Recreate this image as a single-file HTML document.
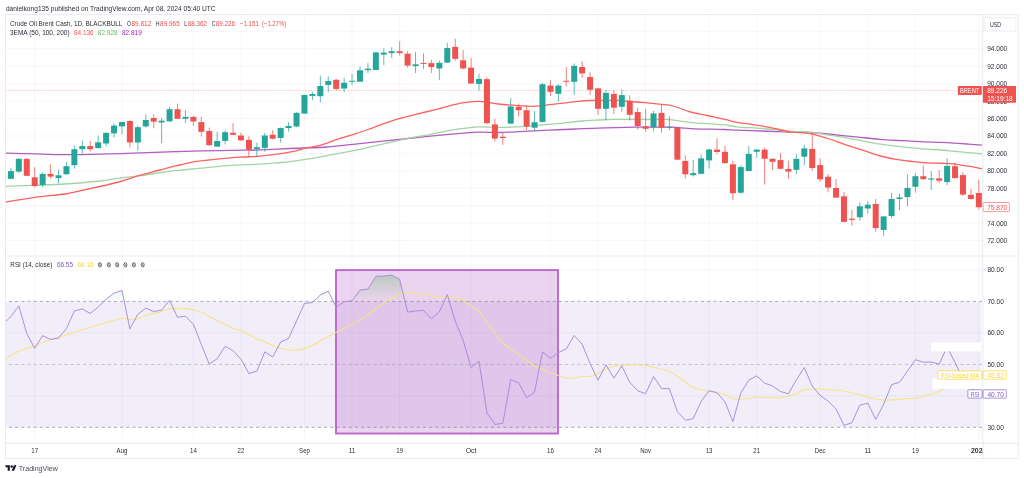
<!DOCTYPE html><html><head><meta charset="utf-8"><title>Crude Oil Brent Cash chart</title>
<style>html,body{margin:0;padding:0;background:#fff;}svg{display:block;font-family:"Liberation Sans",sans-serif;}</style></head><body>
<svg width="1024" height="478" viewBox="0 0 1024 478">
<defs>
<clipPath id="cpP"><rect x="5.6" y="14.7" width="976.5999999999999" height="241.3"/></clipPath>
<clipPath id="cpR"><rect x="5.6" y="256.0" width="976.5999999999999" height="187.2"/></clipPath>
<clipPath id="cpT"><rect x="5.6" y="443.2" width="977.1999999999999" height="15.300000000000011"/></clipPath>
<linearGradient id="ob" gradientUnits="userSpaceOnUse" x1="0" y1="210" x2="0" y2="301.4"><stop offset="0" stop-color="#4caf50" stop-opacity="1"/><stop offset="1" stop-color="#4caf50" stop-opacity="0"/></linearGradient>
<mask id="mk" maskUnits="userSpaceOnUse" x="0" y="0" width="1024" height="478"><rect width="1024" height="478" fill="#fff"/></mask>
</defs>
<g mask="url(#mk)">
<rect width="1024" height="478" fill="#fff"/>
<text x="5.9" y="10.7" font-size="7.3" fill="#2a2e39" textLength="209.7" lengthAdjust="spacingAndGlyphs">danielkong135 published on TradingView.com, Apr 08, 2024 05:40 UTC</text>
<g stroke="#2a2e39" stroke-opacity="0.06" stroke-width="0.7">
<line x1="34.7" y1="14.7" x2="34.7" y2="443.2"/>
<line x1="122.0" y1="14.7" x2="122.0" y2="443.2"/>
<line x1="193.4" y1="14.7" x2="193.4" y2="443.2"/>
<line x1="241.0" y1="14.7" x2="241.0" y2="443.2"/>
<line x1="304.5" y1="14.7" x2="304.5" y2="443.2"/>
<line x1="352.1" y1="14.7" x2="352.1" y2="443.2"/>
<line x1="399.7" y1="14.7" x2="399.7" y2="443.2"/>
<line x1="471.1" y1="14.7" x2="471.1" y2="443.2"/>
<line x1="550.4" y1="14.7" x2="550.4" y2="443.2"/>
<line x1="598.0" y1="14.7" x2="598.0" y2="443.2"/>
<line x1="645.6" y1="14.7" x2="645.6" y2="443.2"/>
<line x1="709.1" y1="14.7" x2="709.1" y2="443.2"/>
<line x1="756.7" y1="14.7" x2="756.7" y2="443.2"/>
<line x1="820.2" y1="14.7" x2="820.2" y2="443.2"/>
<line x1="867.8" y1="14.7" x2="867.8" y2="443.2"/>
<line x1="915.4" y1="14.7" x2="915.4" y2="443.2"/>
<line x1="978.8" y1="14.7" x2="978.8" y2="443.2"/>
<line x1="5.6" y1="240.6" x2="982.8" y2="240.6"/>
<line x1="5.6" y1="223.2" x2="982.8" y2="223.2"/>
<line x1="5.6" y1="205.8" x2="982.8" y2="205.8"/>
<line x1="5.6" y1="188.3" x2="982.8" y2="188.3"/>
<line x1="5.6" y1="170.9" x2="982.8" y2="170.9"/>
<line x1="5.6" y1="153.4" x2="982.8" y2="153.4"/>
<line x1="5.6" y1="136.0" x2="982.8" y2="136.0"/>
<line x1="5.6" y1="118.6" x2="982.8" y2="118.6"/>
<line x1="5.6" y1="101.1" x2="982.8" y2="101.1"/>
<line x1="5.6" y1="83.7" x2="982.8" y2="83.7"/>
<line x1="5.6" y1="66.2" x2="982.8" y2="66.2"/>
<line x1="5.6" y1="48.8" x2="982.8" y2="48.8"/>
<line x1="5.6" y1="31.4" x2="982.8" y2="31.4"/>
<line x1="5.6" y1="269.9" x2="982.8" y2="269.9"/>
<line x1="5.6" y1="332.9" x2="982.8" y2="332.9"/>
<line x1="5.6" y1="395.8" x2="982.8" y2="395.8"/>
</g>
<g clip-path="url(#cpP)">
<path d="M5.5,153.1 C10.4,153.2 25.1,153.7 35.0,153.9 C44.9,154.2 54.2,154.6 65.0,154.6 C75.8,154.6 87.4,154.4 100.0,154.1 C112.6,153.8 128.0,153.3 140.6,152.9 C153.2,152.5 165.7,151.9 175.7,151.6 C185.7,151.3 189.5,151.1 200.8,150.9 C212.1,150.7 234.5,150.3 243.7,150.2 C252.9,150.1 248.3,150.4 256.0,150.1 C263.7,149.8 279.3,148.9 290.0,148.5 C300.7,148.1 313.2,147.8 320.0,147.5 C326.8,147.2 325.1,147.2 331.0,146.6 C336.9,146.0 345.3,145.1 355.2,144.1 C365.1,143.1 378.6,141.7 390.3,140.4 C402.0,139.2 413.8,137.8 425.5,136.6 C437.2,135.4 451.8,134.1 460.6,133.4 C469.4,132.7 471.8,132.3 478.2,132.2 C484.6,132.0 493.2,132.6 499.3,132.5 C505.4,132.4 506.8,132.2 515.0,131.8 C523.2,131.4 538.7,130.7 548.7,130.2 C558.7,129.7 566.6,129.3 575.0,129.0 C583.4,128.7 588.6,128.4 598.8,128.1 C609.0,127.8 627.0,127.3 636.0,127.2 C645.0,127.1 646.8,127.2 653.0,127.2 C659.2,127.2 668.7,127.1 673.5,127.2 C678.3,127.3 678.3,127.5 681.8,127.8 C685.3,128.1 690.2,128.7 694.4,128.9 C698.6,129.1 701.9,129.0 707.0,129.1 C712.1,129.2 720.0,129.3 725.0,129.5 C730.0,129.7 730.8,129.9 737.0,130.2 C743.2,130.4 754.8,130.8 762.0,131.0 C769.2,131.2 775.2,131.5 780.0,131.7 C784.8,131.9 786.0,132.1 791.0,132.2 C796.0,132.3 803.9,132.0 810.0,132.3 C816.1,132.6 821.7,133.4 827.6,134.0 C833.5,134.6 839.4,135.2 845.2,135.8 C851.1,136.4 856.9,137.0 862.7,137.6 C868.6,138.2 874.4,138.8 880.3,139.3 C886.2,139.8 892.0,140.2 897.9,140.5 C903.8,140.8 909.6,141.1 915.5,141.4 C921.4,141.7 927.1,141.9 933.0,142.2 C938.9,142.4 944.7,142.6 950.6,142.9 C956.5,143.2 962.9,143.7 968.2,144.1 C973.5,144.5 979.9,144.9 982.3,145.1" fill="none" stroke="#b35cc0" stroke-width="1.3" stroke-linejoin="round"/>
<path d="M5.5,186.3 C10.4,186.1 25.1,185.7 35.0,185.3 C44.9,184.9 54.2,184.7 65.0,184.0 C75.8,183.3 90.5,182.0 100.0,181.0 C109.5,180.0 115.2,178.7 122.0,177.8 C128.8,176.9 132.4,176.8 140.6,175.7 C148.8,174.6 164.2,172.0 171.0,171.1 C177.8,170.2 176.7,170.5 181.7,170.0 C186.7,169.5 193.2,168.9 200.8,168.2 C208.4,167.5 220.0,166.1 227.0,165.6 C234.0,165.1 237.4,165.2 243.0,164.9 C248.6,164.7 254.7,164.4 260.4,164.1 C266.1,163.8 271.4,163.3 277.0,162.8 C282.6,162.3 286.6,162.1 293.8,161.1 C301.0,160.1 313.8,158.1 320.0,157.1 C326.2,156.1 325.1,156.0 331.0,154.9 C336.9,153.8 348.2,151.7 355.2,150.3 C362.1,148.9 366.8,147.7 372.7,146.4 C378.6,145.1 384.4,143.8 390.3,142.4 C396.2,141.1 402.0,139.5 407.9,138.3 C413.8,137.1 419.6,136.5 425.5,135.4 C431.4,134.3 437.1,132.9 443.0,131.8 C448.9,130.7 456.1,129.4 460.6,128.7 C465.1,128.0 467.1,127.9 470.0,127.6 C472.9,127.3 475.5,127.0 478.2,126.9 C480.9,126.8 482.5,126.9 486.0,127.0 C489.5,127.1 494.4,127.4 499.3,127.4 C504.2,127.4 509.8,127.2 515.2,126.9 C520.7,126.6 526.4,126.2 532.0,125.8 C537.6,125.4 543.2,124.9 548.7,124.4 C554.2,123.9 559.5,123.4 565.0,122.8 C570.5,122.2 576.4,121.5 582.0,121.0 C587.6,120.5 593.2,120.3 598.8,120.0 C604.4,119.7 609.4,119.5 615.6,119.4 C621.8,119.3 629.8,119.4 636.0,119.4 C642.2,119.4 648.1,119.5 653.0,119.5 C657.9,119.5 661.7,119.3 665.1,119.4 C668.5,119.5 670.7,119.8 673.5,120.1 C676.3,120.4 678.3,120.8 681.8,121.3 C685.3,121.8 690.2,122.4 694.4,122.8 C698.6,123.2 701.9,123.2 707.0,123.6 C712.1,123.9 720.0,124.4 725.0,124.9 C730.0,125.4 730.8,126.2 737.0,126.8 C743.2,127.4 754.8,127.9 762.0,128.5 C769.2,129.1 775.2,129.8 780.0,130.3 C784.8,130.8 786.0,131.2 791.0,131.5 C796.0,131.8 803.9,131.8 810.0,132.3 C816.1,132.9 821.7,133.9 827.6,134.8 C833.5,135.7 839.4,136.6 845.2,137.6 C851.1,138.6 856.9,139.8 862.7,140.9 C868.6,142.0 874.4,143.2 880.3,144.1 C886.2,145.0 892.0,145.6 897.9,146.3 C903.8,147.0 909.6,147.6 915.5,148.1 C921.4,148.6 927.1,149.1 933.0,149.5 C938.9,149.9 944.7,150.3 950.6,150.8 C956.5,151.3 962.9,152.1 968.2,152.6 C973.5,153.1 979.9,153.7 982.3,153.9" fill="none" stroke="#a3d4a5" stroke-width="1.3" stroke-linejoin="round"/>
<path d="M5.5,202.1 C10.4,201.3 25.1,198.7 35.0,197.3 C44.9,196.0 56.9,195.2 65.0,194.0 C73.1,192.8 77.9,191.2 83.7,190.0 C89.5,188.8 93.6,188.0 100.0,186.5 C106.4,185.0 115.2,182.9 122.0,181.0 C128.8,179.1 134.3,177.0 140.6,175.2 C146.9,173.4 154.2,171.6 160.0,170.0 C165.8,168.4 170.1,167.2 175.7,165.9 C181.3,164.6 189.3,162.7 193.5,161.9 C197.7,161.1 195.2,161.5 200.8,160.9 C206.4,160.3 220.0,158.8 227.0,158.1 C234.0,157.4 237.4,157.3 243.0,157.0 C248.6,156.7 254.7,156.6 260.4,156.1 C266.1,155.6 271.4,155.0 277.0,154.2 C282.6,153.4 288.8,152.5 293.8,151.4 C298.8,150.3 302.8,148.7 307.2,147.7 C311.6,146.7 314.9,146.8 320.0,145.4 C325.1,144.0 331.7,141.1 337.6,139.2 C343.5,137.3 349.4,135.8 355.2,133.9 C361.0,132.0 366.8,129.9 372.7,127.8 C378.6,125.7 384.4,123.2 390.3,121.3 C396.2,119.4 402.0,118.0 407.9,116.4 C413.8,114.9 419.6,113.5 425.5,112.0 C431.4,110.5 437.1,109.1 443.0,107.6 C448.9,106.1 456.1,104.2 460.6,103.2 C465.1,102.2 467.1,102.2 470.0,101.9 C472.9,101.6 475.5,101.4 478.2,101.4 C480.9,101.4 482.6,101.6 486.0,102.0 C489.4,102.4 493.7,103.5 498.5,104.0 C503.3,104.5 509.4,104.9 515.0,105.3 C520.6,105.7 527.5,106.2 532.0,106.3 C536.5,106.3 538.7,105.9 542.0,105.6 C545.3,105.3 546.7,104.9 552.0,104.3 C557.3,103.7 567.4,102.4 573.8,101.8 C580.2,101.2 583.5,100.7 590.5,100.5 C597.5,100.3 610.7,100.5 615.6,100.5 C620.5,100.5 616.5,100.2 620.0,100.5 C623.5,100.8 631.7,101.5 636.7,102.0 C641.7,102.5 645.8,102.8 650.0,103.2 C654.2,103.6 658.6,104.1 661.8,104.4 C665.0,104.7 666.6,104.7 669.3,105.2 C671.9,105.7 674.9,106.6 677.7,107.5 C680.5,108.4 683.2,109.6 686.0,110.5 C688.8,111.4 690.9,112.2 694.4,113.0 C697.9,113.8 701.9,114.4 707.0,115.5 C712.1,116.6 720.0,118.3 725.0,119.4 C730.0,120.5 732.2,121.4 737.0,122.3 C741.8,123.2 748.2,123.9 753.8,124.8 C759.4,125.7 764.4,126.4 770.6,127.6 C776.8,128.8 784.4,130.8 791.0,131.8 C797.6,132.8 803.9,132.6 810.0,133.7 C816.1,134.8 821.7,136.7 827.6,138.5 C833.5,140.3 839.4,142.7 845.2,144.6 C851.1,146.5 856.9,148.3 862.7,150.2 C868.6,152.1 874.4,154.4 880.3,156.0 C886.2,157.6 892.0,158.6 897.9,159.6 C903.8,160.6 909.6,161.2 915.5,161.8 C921.4,162.4 927.1,162.8 933.0,163.1 C938.9,163.4 944.7,163.1 950.6,163.6 C956.5,164.1 962.9,165.3 968.2,166.2 C973.5,167.0 979.9,168.3 982.3,168.7" fill="none" stroke="#ff6060" stroke-width="1.3" stroke-linejoin="round"/>
<line x1="5.6" y1="90.4" x2="958" y2="90.4" stroke="#ef5350" stroke-width="0.7" stroke-dasharray="1.2 1.3" opacity="0.6"/>
<line x1="10.90" y1="168.0" x2="10.90" y2="179.0" stroke="#26a69a" stroke-width="0.75"/>
<rect x="7.90" y="171.1" width="6" height="7.7" fill="#26a69a"/>
<line x1="18.83" y1="158.0" x2="18.83" y2="173.2" stroke="#26a69a" stroke-width="0.75"/>
<rect x="15.83" y="158.9" width="6" height="12.7" fill="#26a69a"/>
<line x1="26.77" y1="158.3" x2="26.77" y2="176.1" stroke="#ef5350" stroke-width="0.75"/>
<rect x="23.77" y="158.9" width="6" height="16.9" fill="#ef5350"/>
<line x1="34.70" y1="167.2" x2="34.70" y2="187.3" stroke="#ef5350" stroke-width="0.75"/>
<rect x="31.70" y="177.3" width="6" height="8.8" fill="#ef5350"/>
<line x1="42.64" y1="172.2" x2="42.64" y2="187.3" stroke="#26a69a" stroke-width="0.75"/>
<rect x="39.64" y="173.9" width="6" height="11.1" fill="#26a69a"/>
<line x1="50.57" y1="164.4" x2="50.57" y2="178.6" stroke="#ef5350" stroke-width="0.75"/>
<rect x="47.57" y="173.9" width="6" height="2.7" fill="#ef5350"/>
<line x1="58.50" y1="169.7" x2="58.50" y2="183.3" stroke="#26a69a" stroke-width="0.75"/>
<rect x="55.50" y="175.3" width="6" height="2.8" fill="#26a69a"/>
<line x1="66.44" y1="162.0" x2="66.44" y2="174.9" stroke="#26a69a" stroke-width="0.75"/>
<rect x="63.44" y="166.2" width="6" height="8.0" fill="#26a69a"/>
<line x1="74.37" y1="145.6" x2="74.37" y2="168.6" stroke="#26a69a" stroke-width="0.75"/>
<rect x="71.37" y="149.2" width="6" height="16.0" fill="#26a69a"/>
<line x1="82.31" y1="140.6" x2="82.31" y2="153.8" stroke="#26a69a" stroke-width="0.75"/>
<rect x="79.31" y="146.1" width="6" height="3.1" fill="#26a69a"/>
<line x1="90.24" y1="141.1" x2="90.24" y2="151.5" stroke="#ef5350" stroke-width="0.75"/>
<rect x="87.24" y="146.1" width="6" height="3.1" fill="#ef5350"/>
<line x1="98.17" y1="135.6" x2="98.17" y2="148.5" stroke="#26a69a" stroke-width="0.75"/>
<rect x="95.17" y="142.3" width="6" height="5.8" fill="#26a69a"/>
<line x1="106.11" y1="132.3" x2="106.11" y2="146.5" stroke="#26a69a" stroke-width="0.75"/>
<rect x="103.11" y="132.9" width="6" height="10.6" fill="#26a69a"/>
<line x1="114.04" y1="123.4" x2="114.04" y2="137.6" stroke="#26a69a" stroke-width="0.75"/>
<rect x="111.04" y="125.6" width="6" height="7.8" fill="#26a69a"/>
<line x1="121.98" y1="121.7" x2="121.98" y2="134.3" stroke="#26a69a" stroke-width="0.75"/>
<rect x="118.98" y="122.0" width="6" height="4.4" fill="#26a69a"/>
<line x1="129.91" y1="120.0" x2="129.91" y2="147.6" stroke="#ef5350" stroke-width="0.75"/>
<rect x="126.91" y="121.0" width="6" height="21.5" fill="#ef5350"/>
<line x1="137.84" y1="125.4" x2="137.84" y2="150.7" stroke="#26a69a" stroke-width="0.75"/>
<rect x="134.84" y="127.2" width="6" height="15.3" fill="#26a69a"/>
<line x1="145.78" y1="114.5" x2="145.78" y2="127.6" stroke="#26a69a" stroke-width="0.75"/>
<rect x="142.78" y="120.0" width="6" height="6.4" fill="#26a69a"/>
<line x1="153.71" y1="114.2" x2="153.71" y2="128.1" stroke="#ef5350" stroke-width="0.75"/>
<rect x="150.71" y="118.0" width="6" height="3.7" fill="#ef5350"/>
<line x1="161.65" y1="117.9" x2="161.65" y2="143.1" stroke="#26a69a" stroke-width="0.75"/>
<rect x="158.65" y="120.7" width="6" height="1.8" fill="#26a69a"/>
<line x1="169.58" y1="106.7" x2="169.58" y2="121.8" stroke="#26a69a" stroke-width="0.75"/>
<rect x="166.58" y="109.2" width="6" height="12.1" fill="#26a69a"/>
<line x1="177.51" y1="103.7" x2="177.51" y2="119.3" stroke="#ef5350" stroke-width="0.75"/>
<rect x="174.51" y="109.2" width="6" height="9.6" fill="#ef5350"/>
<line x1="185.45" y1="110.1" x2="185.45" y2="122.8" stroke="#26a69a" stroke-width="0.75"/>
<rect x="182.45" y="116.9" width="6" height="1.9" fill="#26a69a"/>
<line x1="193.38" y1="115.9" x2="193.38" y2="126.0" stroke="#ef5350" stroke-width="0.75"/>
<rect x="190.38" y="116.9" width="6" height="4.6" fill="#ef5350"/>
<line x1="201.32" y1="116.8" x2="201.32" y2="136.5" stroke="#ef5350" stroke-width="0.75"/>
<rect x="198.32" y="122.1" width="6" height="9.7" fill="#ef5350"/>
<line x1="209.25" y1="127.6" x2="209.25" y2="145.7" stroke="#ef5350" stroke-width="0.75"/>
<rect x="206.25" y="131.0" width="6" height="14.2" fill="#ef5350"/>
<line x1="217.18" y1="131.8" x2="217.18" y2="146.9" stroke="#26a69a" stroke-width="0.75"/>
<rect x="214.18" y="141.0" width="6" height="5.6" fill="#26a69a"/>
<line x1="225.12" y1="130.2" x2="225.12" y2="144.5" stroke="#26a69a" stroke-width="0.75"/>
<rect x="222.12" y="132.2" width="6" height="8.7" fill="#26a69a"/>
<line x1="233.05" y1="123.1" x2="233.05" y2="135.2" stroke="#ef5350" stroke-width="0.75"/>
<rect x="230.05" y="132.8" width="6" height="2.0" fill="#ef5350"/>
<line x1="240.99" y1="132.8" x2="240.99" y2="140.7" stroke="#ef5350" stroke-width="0.75"/>
<rect x="237.99" y="135.5" width="6" height="4.9" fill="#ef5350"/>
<line x1="248.92" y1="136.5" x2="248.92" y2="156.6" stroke="#ef5350" stroke-width="0.75"/>
<rect x="245.92" y="139.9" width="6" height="9.8" fill="#ef5350"/>
<line x1="256.85" y1="142.7" x2="256.85" y2="156.1" stroke="#26a69a" stroke-width="0.75"/>
<rect x="253.85" y="147.2" width="6" height="2.0" fill="#26a69a"/>
<line x1="264.79" y1="132.8" x2="264.79" y2="151.6" stroke="#26a69a" stroke-width="0.75"/>
<rect x="261.79" y="135.5" width="6" height="12.4" fill="#26a69a"/>
<line x1="272.72" y1="130.2" x2="272.72" y2="139.7" stroke="#ef5350" stroke-width="0.75"/>
<rect x="269.72" y="134.8" width="6" height="3.9" fill="#ef5350"/>
<line x1="280.66" y1="127.5" x2="280.66" y2="142.7" stroke="#26a69a" stroke-width="0.75"/>
<rect x="277.66" y="128.1" width="6" height="9.9" fill="#26a69a"/>
<line x1="288.59" y1="122.1" x2="288.59" y2="131.5" stroke="#26a69a" stroke-width="0.75"/>
<rect x="285.59" y="126.0" width="6" height="2.0" fill="#26a69a"/>
<line x1="296.52" y1="112.1" x2="296.52" y2="127.1" stroke="#26a69a" stroke-width="0.75"/>
<rect x="293.52" y="112.9" width="6" height="13.6" fill="#26a69a"/>
<line x1="304.46" y1="94.7" x2="304.46" y2="113.9" stroke="#26a69a" stroke-width="0.75"/>
<rect x="301.46" y="95.0" width="6" height="18.6" fill="#26a69a"/>
<line x1="312.39" y1="91.7" x2="312.39" y2="100.0" stroke="#26a69a" stroke-width="0.75"/>
<rect x="309.39" y="94.0" width="6" height="1.9" fill="#26a69a"/>
<line x1="320.33" y1="75.7" x2="320.33" y2="102.4" stroke="#26a69a" stroke-width="0.75"/>
<rect x="317.33" y="86.0" width="6" height="10.2" fill="#26a69a"/>
<line x1="328.26" y1="76.3" x2="328.26" y2="91.9" stroke="#26a69a" stroke-width="0.75"/>
<rect x="325.26" y="81.0" width="6" height="3.9" fill="#26a69a"/>
<line x1="336.19" y1="78.8" x2="336.19" y2="90.5" stroke="#ef5350" stroke-width="0.75"/>
<rect x="333.19" y="79.8" width="6" height="9.1" fill="#ef5350"/>
<line x1="344.13" y1="77.7" x2="344.13" y2="92.2" stroke="#26a69a" stroke-width="0.75"/>
<rect x="341.13" y="82.8" width="6" height="5.7" fill="#26a69a"/>
<line x1="352.06" y1="73.8" x2="352.06" y2="84.9" stroke="#26a69a" stroke-width="0.75"/>
<rect x="349.06" y="80.8" width="6" height="1.0" fill="#26a69a"/>
<line x1="360.00" y1="66.5" x2="360.00" y2="82.0" stroke="#26a69a" stroke-width="0.75"/>
<rect x="357.00" y="70.3" width="6" height="11.4" fill="#26a69a"/>
<line x1="367.93" y1="63.1" x2="367.93" y2="73.0" stroke="#26a69a" stroke-width="0.75"/>
<rect x="364.93" y="68.6" width="6" height="1.5" fill="#26a69a"/>
<line x1="375.86" y1="52.1" x2="375.86" y2="70.2" stroke="#26a69a" stroke-width="0.75"/>
<rect x="372.86" y="52.4" width="6" height="17.6" fill="#26a69a"/>
<line x1="383.80" y1="48.4" x2="383.80" y2="65.1" stroke="#26a69a" stroke-width="0.75"/>
<rect x="380.80" y="52.6" width="6" height="2.0" fill="#26a69a"/>
<line x1="391.73" y1="47.2" x2="391.73" y2="57.9" stroke="#26a69a" stroke-width="0.75"/>
<rect x="388.73" y="51.2" width="6" height="1.9" fill="#26a69a"/>
<line x1="399.67" y1="41.2" x2="399.67" y2="55.6" stroke="#ef5350" stroke-width="0.75"/>
<rect x="396.67" y="51.2" width="6" height="1.9" fill="#ef5350"/>
<line x1="407.60" y1="51.2" x2="407.60" y2="67.5" stroke="#ef5350" stroke-width="0.75"/>
<rect x="404.60" y="53.7" width="6" height="11.9" fill="#ef5350"/>
<line x1="415.53" y1="52.2" x2="415.53" y2="73.0" stroke="#26a69a" stroke-width="0.75"/>
<rect x="412.53" y="64.3" width="6" height="1.8" fill="#26a69a"/>
<line x1="423.47" y1="53.4" x2="423.47" y2="69.0" stroke="#ef5350" stroke-width="0.75"/>
<rect x="420.47" y="62.9" width="6" height="1.0" fill="#ef5350"/>
<line x1="431.40" y1="59.8" x2="431.40" y2="73.0" stroke="#ef5350" stroke-width="0.75"/>
<rect x="428.40" y="63.1" width="6" height="4.0" fill="#ef5350"/>
<line x1="439.34" y1="60.4" x2="439.34" y2="80.2" stroke="#26a69a" stroke-width="0.75"/>
<rect x="436.34" y="62.8" width="6" height="5.7" fill="#26a69a"/>
<line x1="447.27" y1="42.9" x2="447.27" y2="62.9" stroke="#26a69a" stroke-width="0.75"/>
<rect x="444.27" y="48.0" width="6" height="14.6" fill="#26a69a"/>
<line x1="455.20" y1="38.8" x2="455.20" y2="60.9" stroke="#ef5350" stroke-width="0.75"/>
<rect x="452.20" y="46.9" width="6" height="11.9" fill="#ef5350"/>
<line x1="463.14" y1="50.1" x2="463.14" y2="69.0" stroke="#ef5350" stroke-width="0.75"/>
<rect x="460.14" y="60.3" width="6" height="8.2" fill="#ef5350"/>
<line x1="471.07" y1="58.1" x2="471.07" y2="83.9" stroke="#ef5350" stroke-width="0.75"/>
<rect x="468.07" y="67.6" width="6" height="15.9" fill="#ef5350"/>
<line x1="479.01" y1="73.7" x2="479.01" y2="90.6" stroke="#26a69a" stroke-width="0.75"/>
<rect x="476.01" y="78.9" width="6" height="5.0" fill="#26a69a"/>
<line x1="486.94" y1="77.5" x2="486.94" y2="124.4" stroke="#ef5350" stroke-width="0.75"/>
<rect x="483.94" y="79.2" width="6" height="43.9" fill="#ef5350"/>
<line x1="494.87" y1="118.9" x2="494.87" y2="141.6" stroke="#ef5350" stroke-width="0.75"/>
<rect x="491.87" y="124.4" width="6" height="14.2" fill="#ef5350"/>
<line x1="502.81" y1="133.0" x2="502.81" y2="144.9" stroke="#ef5350" stroke-width="0.75"/>
<rect x="499.81" y="136.8" width="6" height="1.2" fill="#ef5350"/>
<line x1="510.74" y1="98.1" x2="510.74" y2="123.9" stroke="#26a69a" stroke-width="0.75"/>
<rect x="507.74" y="106.5" width="6" height="17.1" fill="#26a69a"/>
<line x1="518.68" y1="103.5" x2="518.68" y2="116.4" stroke="#ef5350" stroke-width="0.75"/>
<rect x="515.68" y="106.8" width="6" height="3.4" fill="#ef5350"/>
<line x1="526.61" y1="105.7" x2="526.61" y2="130.2" stroke="#ef5350" stroke-width="0.75"/>
<rect x="523.61" y="110.2" width="6" height="16.4" fill="#ef5350"/>
<line x1="534.54" y1="111.0" x2="534.54" y2="131.1" stroke="#26a69a" stroke-width="0.75"/>
<rect x="531.54" y="122.2" width="6" height="5.5" fill="#26a69a"/>
<line x1="542.48" y1="83.1" x2="542.48" y2="122.7" stroke="#26a69a" stroke-width="0.75"/>
<rect x="539.48" y="84.2" width="6" height="37.7" fill="#26a69a"/>
<line x1="550.41" y1="80.1" x2="550.41" y2="96.0" stroke="#ef5350" stroke-width="0.75"/>
<rect x="547.41" y="85.6" width="6" height="6.2" fill="#ef5350"/>
<line x1="558.35" y1="84.2" x2="558.35" y2="101.8" stroke="#26a69a" stroke-width="0.75"/>
<rect x="555.35" y="85.6" width="6" height="8.2" fill="#26a69a"/>
<line x1="566.28" y1="67.0" x2="566.28" y2="86.2" stroke="#ef5350" stroke-width="0.75"/>
<rect x="563.28" y="80.8" width="6" height="1.0" fill="#ef5350"/>
<line x1="574.21" y1="63.4" x2="574.21" y2="94.8" stroke="#26a69a" stroke-width="0.75"/>
<rect x="571.21" y="65.9" width="6" height="15.9" fill="#26a69a"/>
<line x1="582.15" y1="61.3" x2="582.15" y2="77.8" stroke="#ef5350" stroke-width="0.75"/>
<rect x="579.15" y="67.0" width="6" height="6.4" fill="#ef5350"/>
<line x1="590.08" y1="72.4" x2="590.08" y2="95.1" stroke="#ef5350" stroke-width="0.75"/>
<rect x="587.08" y="77.0" width="6" height="12.8" fill="#ef5350"/>
<line x1="598.02" y1="88.1" x2="598.02" y2="114.9" stroke="#ef5350" stroke-width="0.75"/>
<rect x="595.02" y="88.4" width="6" height="20.4" fill="#ef5350"/>
<line x1="605.95" y1="89.8" x2="605.95" y2="120.2" stroke="#26a69a" stroke-width="0.75"/>
<rect x="602.95" y="92.9" width="6" height="15.9" fill="#26a69a"/>
<line x1="613.88" y1="90.4" x2="613.88" y2="114.0" stroke="#ef5350" stroke-width="0.75"/>
<rect x="610.88" y="93.9" width="6" height="13.8" fill="#ef5350"/>
<line x1="621.82" y1="89.3" x2="621.82" y2="111.8" stroke="#26a69a" stroke-width="0.75"/>
<rect x="618.82" y="95.1" width="6" height="11.7" fill="#26a69a"/>
<line x1="629.75" y1="95.4" x2="629.75" y2="120.6" stroke="#ef5350" stroke-width="0.75"/>
<rect x="626.75" y="100.8" width="6" height="14.0" fill="#ef5350"/>
<line x1="637.69" y1="107.6" x2="637.69" y2="129.7" stroke="#ef5350" stroke-width="0.75"/>
<rect x="634.69" y="112.1" width="6" height="13.9" fill="#ef5350"/>
<line x1="645.62" y1="109.2" x2="645.62" y2="131.5" stroke="#ef5350" stroke-width="0.75"/>
<rect x="642.62" y="126.3" width="6" height="2.5" fill="#ef5350"/>
<line x1="653.55" y1="110.9" x2="653.55" y2="131.3" stroke="#26a69a" stroke-width="0.75"/>
<rect x="650.55" y="113.4" width="6" height="13.9" fill="#26a69a"/>
<line x1="661.49" y1="104.6" x2="661.49" y2="132.7" stroke="#ef5350" stroke-width="0.75"/>
<rect x="658.49" y="112.9" width="6" height="14.9" fill="#ef5350"/>
<line x1="669.42" y1="116.3" x2="669.42" y2="130.1" stroke="#26a69a" stroke-width="0.75"/>
<rect x="666.42" y="126.8" width="6" height="1.0" fill="#26a69a"/>
<line x1="677.36" y1="127.6" x2="677.36" y2="160.0" stroke="#ef5350" stroke-width="0.75"/>
<rect x="674.36" y="127.6" width="6" height="32.1" fill="#ef5350"/>
<line x1="685.29" y1="155.2" x2="685.29" y2="178.5" stroke="#ef5350" stroke-width="0.75"/>
<rect x="682.29" y="160.9" width="6" height="13.4" fill="#ef5350"/>
<line x1="693.22" y1="159.8" x2="693.22" y2="176.5" stroke="#26a69a" stroke-width="0.75"/>
<rect x="690.22" y="173.1" width="6" height="2.1" fill="#26a69a"/>
<line x1="701.16" y1="154.3" x2="701.16" y2="174.3" stroke="#26a69a" stroke-width="0.75"/>
<rect x="698.16" y="158.4" width="6" height="15.4" fill="#26a69a"/>
<line x1="709.09" y1="148.7" x2="709.09" y2="168.7" stroke="#26a69a" stroke-width="0.75"/>
<rect x="706.09" y="149.5" width="6" height="10.9" fill="#26a69a"/>
<line x1="717.03" y1="138.1" x2="717.03" y2="154.3" stroke="#ef5350" stroke-width="0.75"/>
<rect x="714.03" y="149.6" width="6" height="2.4" fill="#ef5350"/>
<line x1="724.96" y1="145.9" x2="724.96" y2="163.9" stroke="#ef5350" stroke-width="0.75"/>
<rect x="721.96" y="151.8" width="6" height="11.3" fill="#ef5350"/>
<line x1="732.89" y1="160.9" x2="732.89" y2="199.9" stroke="#ef5350" stroke-width="0.75"/>
<rect x="729.89" y="164.3" width="6" height="28.9" fill="#ef5350"/>
<line x1="740.83" y1="165.1" x2="740.83" y2="193.9" stroke="#26a69a" stroke-width="0.75"/>
<rect x="737.83" y="167.1" width="6" height="25.6" fill="#26a69a"/>
<line x1="748.76" y1="145.9" x2="748.76" y2="171.0" stroke="#26a69a" stroke-width="0.75"/>
<rect x="745.76" y="153.9" width="6" height="17.1" fill="#26a69a"/>
<line x1="756.70" y1="149.1" x2="756.70" y2="158.1" stroke="#26a69a" stroke-width="0.75"/>
<rect x="753.70" y="149.6" width="6" height="2.2" fill="#26a69a"/>
<line x1="764.63" y1="147.5" x2="764.63" y2="184.7" stroke="#ef5350" stroke-width="0.75"/>
<rect x="761.63" y="149.6" width="6" height="9.2" fill="#ef5350"/>
<line x1="772.56" y1="158.5" x2="772.56" y2="170.1" stroke="#ef5350" stroke-width="0.75"/>
<rect x="769.56" y="158.8" width="6" height="3.0" fill="#ef5350"/>
<line x1="780.50" y1="153.1" x2="780.50" y2="169.3" stroke="#ef5350" stroke-width="0.75"/>
<rect x="777.50" y="160.1" width="6" height="8.7" fill="#ef5350"/>
<line x1="788.43" y1="160.9" x2="788.43" y2="178.8" stroke="#ef5350" stroke-width="0.75"/>
<rect x="785.43" y="169.0" width="6" height="2.6" fill="#ef5350"/>
<line x1="796.37" y1="153.9" x2="796.37" y2="174.0" stroke="#26a69a" stroke-width="0.75"/>
<rect x="793.37" y="158.9" width="6" height="10.9" fill="#26a69a"/>
<line x1="804.30" y1="145.0" x2="804.30" y2="165.1" stroke="#26a69a" stroke-width="0.75"/>
<rect x="801.30" y="148.4" width="6" height="8.3" fill="#26a69a"/>
<line x1="812.23" y1="131.7" x2="812.23" y2="171.0" stroke="#ef5350" stroke-width="0.75"/>
<rect x="809.23" y="148.9" width="6" height="19.1" fill="#ef5350"/>
<line x1="820.17" y1="158.4" x2="820.17" y2="181.8" stroke="#ef5350" stroke-width="0.75"/>
<rect x="817.17" y="165.1" width="6" height="14.2" fill="#ef5350"/>
<line x1="828.10" y1="174.0" x2="828.10" y2="192.3" stroke="#ef5350" stroke-width="0.75"/>
<rect x="825.10" y="176.7" width="6" height="10.9" fill="#ef5350"/>
<line x1="836.04" y1="179.0" x2="836.04" y2="198.0" stroke="#ef5350" stroke-width="0.75"/>
<rect x="833.04" y="188.0" width="6" height="9.6" fill="#ef5350"/>
<line x1="843.97" y1="191.8" x2="843.97" y2="222.2" stroke="#ef5350" stroke-width="0.75"/>
<rect x="840.97" y="196.3" width="6" height="25.6" fill="#ef5350"/>
<line x1="851.90" y1="209.9" x2="851.90" y2="225.8" stroke="#ef5350" stroke-width="0.75"/>
<rect x="848.90" y="218.7" width="6" height="1.2" fill="#ef5350"/>
<line x1="859.84" y1="202.3" x2="859.84" y2="220.7" stroke="#26a69a" stroke-width="0.75"/>
<rect x="856.84" y="206.3" width="6" height="10.9" fill="#26a69a"/>
<line x1="867.77" y1="201.0" x2="867.77" y2="213.5" stroke="#26a69a" stroke-width="0.75"/>
<rect x="864.77" y="204.7" width="6" height="3.8" fill="#26a69a"/>
<line x1="875.71" y1="199.0" x2="875.71" y2="231.6" stroke="#ef5350" stroke-width="0.75"/>
<rect x="872.71" y="204.0" width="6" height="24.1" fill="#ef5350"/>
<line x1="883.64" y1="216.4" x2="883.64" y2="235.8" stroke="#26a69a" stroke-width="0.75"/>
<rect x="880.64" y="216.4" width="6" height="13.5" fill="#26a69a"/>
<line x1="891.57" y1="192.8" x2="891.57" y2="218.1" stroke="#26a69a" stroke-width="0.75"/>
<rect x="888.57" y="199.0" width="6" height="17.0" fill="#26a69a"/>
<line x1="899.51" y1="193.5" x2="899.51" y2="210.2" stroke="#26a69a" stroke-width="0.75"/>
<rect x="896.51" y="197.5" width="6" height="1.5" fill="#26a69a"/>
<line x1="907.44" y1="174.6" x2="907.44" y2="206.3" stroke="#26a69a" stroke-width="0.75"/>
<rect x="904.44" y="187.9" width="6" height="9.2" fill="#26a69a"/>
<line x1="915.38" y1="173.1" x2="915.38" y2="192.6" stroke="#26a69a" stroke-width="0.75"/>
<rect x="912.38" y="176.2" width="6" height="10.6" fill="#26a69a"/>
<line x1="923.31" y1="165.9" x2="923.31" y2="179.7" stroke="#ef5350" stroke-width="0.75"/>
<rect x="920.31" y="176.2" width="6" height="3.0" fill="#ef5350"/>
<line x1="931.24" y1="171.2" x2="931.24" y2="190.1" stroke="#26a69a" stroke-width="0.75"/>
<rect x="928.24" y="178.4" width="6" height="1.2" fill="#26a69a"/>
<line x1="939.18" y1="170.0" x2="939.18" y2="182.9" stroke="#ef5350" stroke-width="0.75"/>
<rect x="936.18" y="178.4" width="6" height="2.3" fill="#ef5350"/>
<line x1="947.11" y1="158.3" x2="947.11" y2="185.1" stroke="#26a69a" stroke-width="0.75"/>
<rect x="944.11" y="165.9" width="6" height="16.2" fill="#26a69a"/>
<line x1="955.05" y1="162.5" x2="955.05" y2="178.4" stroke="#ef5350" stroke-width="0.75"/>
<rect x="952.05" y="166.2" width="6" height="11.9" fill="#ef5350"/>
<line x1="962.98" y1="172.2" x2="962.98" y2="196.0" stroke="#ef5350" stroke-width="0.75"/>
<rect x="959.98" y="175.1" width="6" height="19.5" fill="#ef5350"/>
<line x1="970.91" y1="188.8" x2="970.91" y2="199.7" stroke="#ef5350" stroke-width="0.75"/>
<rect x="967.91" y="194.8" width="6" height="4.2" fill="#ef5350"/>
<line x1="978.85" y1="179.6" x2="978.85" y2="209.7" stroke="#ef5350" stroke-width="0.75"/>
<rect x="975.85" y="193.0" width="6" height="14.3" fill="#ef5350"/>
</g>
<g clip-path="url(#cpR)">
<rect x="5.6" y="301.4" width="975.6" height="125.9" fill="#7e57c2" fill-opacity="0.1"/>
<rect x="336" y="270.1" width="222.0" height="163.39999999999998" fill="#9c27b0" fill-opacity="0.2" stroke="#bb68cb" stroke-width="1.9"/>
<path d="M103.9,301.4 L106.1,299.2 L114.0,293.1 L122.0,290.4 L124.2,301.4 Z" fill="url(#ob)"/>
<path d="M168.8,301.4 L169.6,300.4 L170.0,301.4 Z" fill="url(#ob)"/>
<path d="M313.6,301.4 L320.3,295.0 L328.3,291.1 L333.4,301.4 Z" fill="url(#ob)"/>
<path d="M347.3,301.4 L352.1,300.8 L360.0,290.1 L367.9,289.1 L375.9,276.3 L383.8,276.1 L391.7,275.1 L399.7,279.4 L405.0,301.4 Z" fill="url(#ob)"/>
<path d="M444.2,301.4 L447.3,294.6 L449.3,301.4 Z" fill="url(#ob)"/>
<g stroke="#7d808b" stroke-width="0.65" stroke-dasharray="3.1 3.08" stroke-dashoffset="2.9">
<line x1="5.6" y1="301.4" x2="982.8" y2="301.4"/>
<line x1="5.6" y1="364.4" x2="982.8" y2="364.4" opacity="0.7"/>
<line x1="5.6" y1="427.3" x2="982.8" y2="427.3"/>
</g>
<path d="M5.9,358.6 C8.0,357.4 13.6,353.7 18.4,351.6 C23.2,349.5 30.6,347.4 34.6,345.8 C38.7,344.2 38.7,343.6 42.7,342.2 C46.7,340.8 53.1,339.4 58.4,337.7 C63.7,336.0 69.0,333.9 74.3,332.2 C79.6,330.4 84.9,328.8 90.2,327.2 C95.5,325.6 100.7,324.1 106.0,322.7 C111.3,321.2 118.0,319.0 122.0,318.5 C126.0,318.0 127.2,319.8 129.8,319.8 C132.5,319.9 135.2,319.5 137.9,318.8 C140.6,318.1 141.8,316.7 145.7,315.5 C149.6,314.3 157.6,312.6 161.6,311.5 C165.6,310.4 166.9,309.4 169.5,308.9 C172.1,308.4 174.8,308.4 177.4,308.3 C180.1,308.2 182.8,308.1 185.4,308.4 C188.1,308.6 190.7,309.2 193.3,309.8 C195.9,310.4 198.5,311.0 201.2,312.1 C203.8,313.2 206.5,315.1 209.2,316.5 C211.8,317.9 214.5,319.2 217.1,320.5 C219.7,321.8 222.3,323.0 225.0,324.3 C227.7,325.6 230.3,327.2 233.0,328.2 C235.7,329.2 238.3,329.5 240.9,330.5 C243.5,331.5 246.2,333.0 248.8,334.4 C251.4,335.8 254.0,337.6 256.7,338.9 C259.3,340.1 262.0,340.8 264.7,341.9 C267.4,342.9 270.0,344.1 272.6,345.2 C275.2,346.2 277.9,347.4 280.5,348.2 C283.1,349.0 285.9,349.4 288.5,349.8 C291.1,350.2 293.8,350.5 296.4,350.3 C299.0,350.1 301.7,349.4 304.3,348.6 C306.9,347.8 309.6,346.9 312.2,345.6 C314.8,344.3 317.5,342.5 320.2,341.0 C322.9,339.5 325.5,337.8 328.1,336.4 C330.7,335.0 333.4,333.8 336.0,332.5 C338.6,331.2 341.3,329.9 344.0,328.5 C346.7,327.1 349.4,325.7 352.0,324.3 C354.6,322.9 356.9,321.9 359.9,320.0 C362.9,318.1 366.8,315.1 370.2,312.7 C373.6,310.3 377.3,307.9 380.2,305.8 C383.1,303.7 385.3,301.9 387.8,300.2 C390.3,298.5 393.2,296.9 395.3,295.8 C397.4,294.7 398.3,294.0 400.3,293.5 C402.3,293.0 404.9,293.0 407.4,293.0 C409.9,293.0 412.6,293.1 415.3,293.4 C418.0,293.7 420.7,294.2 423.3,294.6 C425.9,295.0 428.6,295.5 431.2,295.9 C433.8,296.3 436.5,297.1 439.1,297.2 C441.7,297.2 444.4,296.1 447.0,296.2 C449.6,296.3 452.4,296.9 455.0,297.6 C457.6,298.3 460.3,299.2 462.9,300.6 C465.5,302.0 468.1,304.1 470.8,305.9 C473.5,307.7 476.2,308.6 478.8,311.3 C481.4,314.0 484.1,318.2 486.7,321.8 C489.3,325.4 492.0,329.2 494.6,332.7 C497.2,336.2 499.9,340.0 502.5,342.7 C505.1,345.4 507.9,346.9 510.5,348.9 C513.1,350.9 515.8,352.6 518.4,354.5 C521.0,356.4 523.6,358.1 526.3,360.0 C529.0,361.9 531.9,364.4 534.5,365.9 C537.1,367.4 539.6,368.1 542.2,369.2 C544.8,370.3 547.5,371.6 550.1,372.6 C552.8,373.7 555.5,374.6 558.1,375.5 C560.8,376.4 563.4,377.8 566.0,378.2 C568.6,378.6 571.2,378.3 573.9,378.0 C576.5,377.7 579.2,376.8 581.9,376.5 C584.5,376.2 587.2,376.9 589.8,376.4 C592.4,375.9 595.1,374.7 597.7,373.5 C600.3,372.3 603.0,370.2 605.6,369.0 C608.2,367.8 611.0,366.9 613.6,366.3 C616.2,365.7 618.9,365.5 621.5,365.3 C624.1,365.1 626.8,365.1 629.4,365.0 C632.0,364.9 634.8,364.8 637.4,364.8 C640.0,364.8 642.7,364.8 645.3,365.2 C647.9,365.6 650.6,366.6 653.2,367.2 C655.9,367.8 658.6,368.3 661.2,369.0 C663.9,369.7 666.5,370.4 669.1,371.5 C671.7,372.6 674.4,374.1 677.0,375.8 C679.6,377.5 682.2,380.0 684.9,381.8 C687.5,383.6 690.2,385.6 692.9,386.9 C695.5,388.2 698.2,389.2 700.8,389.8 C703.4,390.4 706.1,390.2 708.7,390.7 C711.4,391.1 714.1,391.9 716.7,392.5 C719.4,393.1 722.0,393.7 724.6,394.6 C727.2,395.6 729.9,397.4 732.5,398.2 C735.1,399.0 737.9,399.2 740.5,399.3 C743.1,399.4 745.8,398.8 748.4,398.5 C751.0,398.2 753.6,397.4 756.3,397.3 C758.9,397.2 761.6,397.6 764.3,397.7 C766.9,397.8 769.6,397.7 772.2,397.7 C774.8,397.7 777.5,398.0 780.1,397.8 C782.7,397.6 785.4,397.2 788.0,396.5 C790.6,395.8 793.4,394.9 796.0,393.8 C798.6,392.7 801.3,390.9 803.9,390.1 C806.5,389.3 809.1,389.1 811.8,389.0 C814.4,388.9 817.1,389.2 819.8,389.3 C822.4,389.4 825.1,389.6 827.7,389.8 C830.3,390.0 833.0,390.2 835.6,390.3 C838.2,390.4 840.8,390.3 843.4,390.7 C846.0,391.1 848.8,392.0 851.5,392.7 C854.2,393.4 856.9,394.1 859.5,394.8 C862.1,395.5 864.6,396.2 867.3,396.9 C869.9,397.6 872.4,398.4 875.4,399.0 C878.4,399.6 882.6,400.0 885.2,400.2 C887.8,400.4 888.8,400.1 891.1,400.0 C893.4,399.9 896.5,399.6 899.1,399.4 C901.8,399.2 904.4,399.0 907.0,398.8 C909.6,398.6 912.1,398.6 914.8,398.2 C917.4,397.8 920.2,397.1 922.9,396.5 C925.5,395.9 928.1,395.1 930.7,394.3 C933.4,393.5 936.1,392.6 938.8,391.5 C941.4,390.4 944.0,389.2 946.6,388.0 C949.2,386.8 952.0,385.6 954.6,384.5 C957.2,383.4 959.9,382.4 962.5,381.5 C965.1,380.6 967.8,380.0 970.4,379.3 C973.0,378.6 977.1,377.8 978.4,377.5" fill="none" stroke="#f8e382" stroke-width="1.1" stroke-linejoin="round" opacity="0.95"/>
<path d="M5.9,321.3 L10.9,316.5 L18.8,305.9 L26.8,333.5 L34.7,348.3 L42.6,335.7 L50.6,339.4 L58.5,338.1 L66.4,328.5 L74.4,311.0 L82.3,308.9 L90.2,313.5 L98.2,307.1 L106.1,299.2 L114.0,293.1 L122.0,290.4 L129.9,328.9 L137.8,314.3 L145.8,308.1 L153.7,311.5 L161.6,310.1 L169.6,300.4 L177.5,317.3 L185.4,316.1 L193.4,324.3 L201.3,344.4 L209.2,364.1 L217.2,358.7 L225.1,346.3 L233.1,350.7 L241.0,359.2 L248.9,373.6 L256.9,371.1 L264.8,351.9 L272.7,356.9 L280.7,341.9 L288.6,338.5 L296.5,321.0 L304.5,303.4 L312.4,302.6 L320.3,295.0 L328.3,291.1 L336.2,307.1 L344.1,301.8 L352.1,300.8 L360.0,290.1 L367.9,289.1 L375.9,276.3 L383.8,276.1 L391.7,275.1 L399.7,279.4 L407.6,312.1 L415.5,311.0 L423.5,310.4 L431.4,318.9 L439.3,312.0 L447.3,294.6 L455.2,321.0 L463.1,340.2 L471.1,367.5 L479.0,361.2 L486.9,412.7 L494.9,424.4 L502.8,423.3 L510.7,379.6 L518.7,382.9 L526.6,397.7 L534.5,392.1 L542.5,351.9 L550.4,358.5 L558.3,352.7 L566.3,348.9 L574.2,335.5 L582.1,344.2 L590.1,363.5 L598.0,380.2 L606.0,364.8 L613.9,378.2 L621.8,366.0 L629.8,382.4 L637.7,390.8 L645.6,393.6 L653.6,376.5 L661.5,388.6 L669.4,388.6 L677.4,411.6 L685.3,420.2 L693.2,418.6 L701.2,401.3 L709.1,390.8 L717.0,392.7 L725.0,401.9 L732.9,421.6 L740.8,393.1 L748.8,380.1 L756.7,375.9 L764.6,383.1 L772.6,386.0 L780.5,391.5 L788.4,393.8 L796.4,379.8 L804.3,367.5 L812.2,386.0 L820.2,395.5 L828.1,401.0 L836.0,408.9 L844.0,425.3 L851.9,422.8 L859.8,405.2 L867.8,403.2 L875.7,419.4 L883.6,404.4 L891.6,384.6 L899.5,382.3 L907.4,371.2 L915.4,359.7 L923.3,362.2 L931.2,362.0 L939.2,364.2 L947.1,346.7 L955.0,362.5 L963.0,379.0 L970.9,388.0 L978.8,393.6" fill="none" stroke="#a68ddb" stroke-width="0.98" stroke-linejoin="round"/>
</g>
<rect x="931" y="342.6" width="52.3" height="8.8" fill="#fff"/>
<rect x="932.6" y="378.5" width="50.4" height="10.4" fill="#fff"/>
<g stroke="#e2e5ec" stroke-width="0.8" fill="none">
<rect x="5.6" y="14.7" width="1012.6" height="443.8"/>
<line x1="982.8" y1="14.7" x2="982.8" y2="458.5"/>
<line x1="5.6" y1="256.0" x2="1018.2" y2="256.0"/>
<line x1="5.6" y1="443.2" x2="1018.2" y2="443.2"/>
</g>
<text x="987.2" y="51.2" font-size="6.7" fill="#2a2e39" textLength="20.1" lengthAdjust="spacingAndGlyphs">94.000</text>
<text x="987.2" y="68.6" font-size="6.7" fill="#2a2e39" textLength="20.1" lengthAdjust="spacingAndGlyphs">92.000</text>
<text x="987.2" y="86.1" font-size="6.7" fill="#2a2e39" textLength="20.1" lengthAdjust="spacingAndGlyphs">90.000</text>
<text x="987.2" y="103.5" font-size="6.7" fill="#2a2e39" textLength="20.1" lengthAdjust="spacingAndGlyphs">88.000</text>
<text x="987.2" y="121.0" font-size="6.7" fill="#2a2e39" textLength="20.1" lengthAdjust="spacingAndGlyphs">86.000</text>
<text x="987.2" y="138.4" font-size="6.7" fill="#2a2e39" textLength="20.1" lengthAdjust="spacingAndGlyphs">84.000</text>
<text x="987.2" y="155.8" font-size="6.7" fill="#2a2e39" textLength="20.1" lengthAdjust="spacingAndGlyphs">82.000</text>
<text x="987.2" y="173.3" font-size="6.7" fill="#2a2e39" textLength="20.1" lengthAdjust="spacingAndGlyphs">80.000</text>
<text x="987.2" y="190.7" font-size="6.7" fill="#2a2e39" textLength="20.1" lengthAdjust="spacingAndGlyphs">78.000</text>
<text x="987.2" y="225.6" font-size="6.7" fill="#2a2e39" textLength="20.1" lengthAdjust="spacingAndGlyphs">74.000</text>
<text x="987.2" y="243.0" font-size="6.7" fill="#2a2e39" textLength="20.1" lengthAdjust="spacingAndGlyphs">72.000</text>
<rect x="984.2" y="17.6" width="31.8" height="13.4" rx="1.2" fill="#fff" stroke="#e2e5ec" stroke-width="0.7"/>
<text x="989.9" y="27.1" font-size="6.7" fill="#2a2e39" textLength="11.2" lengthAdjust="spacingAndGlyphs">USD</text>
<text x="987.4" y="272.3" font-size="6.7" fill="#2a2e39" textLength="16.4" lengthAdjust="spacingAndGlyphs">80.00</text>
<text x="987.4" y="303.8" font-size="6.7" fill="#2a2e39" textLength="16.4" lengthAdjust="spacingAndGlyphs">70.00</text>
<text x="987.4" y="335.3" font-size="6.7" fill="#2a2e39" textLength="16.4" lengthAdjust="spacingAndGlyphs">60.00</text>
<text x="987.4" y="366.8" font-size="6.7" fill="#2a2e39" textLength="16.4" lengthAdjust="spacingAndGlyphs">50.00</text>
<text x="987.4" y="429.7" font-size="6.7" fill="#2a2e39" textLength="16.4" lengthAdjust="spacingAndGlyphs">30.00</text>
<rect x="957.8" y="85.9" width="24" height="9" rx="0.8" fill="#ef5350"/>
<text x="960.0" y="92.8" font-size="6.7" fill="#fff" textLength="19.2" lengthAdjust="spacingAndGlyphs">BRENT</text>
<rect x="982.9" y="85.9" width="33.1" height="16.9" rx="0.8" fill="#ef5350"/>
<text x="987.2" y="92.8" font-size="6.7" fill="#fff" textLength="20.1" lengthAdjust="spacingAndGlyphs">89.226</text>
<text x="987.2" y="101.0" font-size="6.7" fill="#fff" textLength="25.6" lengthAdjust="spacingAndGlyphs">15:19:18</text>
<rect x="983.1" y="202.5" width="26.3" height="9.1" rx="1" fill="#fff" stroke="#ef5350" stroke-width="0.7" stroke-opacity="0.8"/>
<text x="987.2" y="209.7" font-size="6.7" fill="#ef5350" textLength="20.1" lengthAdjust="spacingAndGlyphs">75.870</text>
<rect x="937.9" y="370.9" width="44.1" height="8.3" rx="0.7" fill="#fff" stroke="#fdd835" stroke-width="0.75"/>
<text x="940.4" y="378.0" font-size="6.7" fill="#fdd835" textLength="38.8" lengthAdjust="spacingAndGlyphs">RSI-based MA</text>
<rect x="983.1" y="370.9" width="23.2" height="8.3" rx="0.7" fill="#fff" stroke="#fdd835" stroke-width="0.75"/>
<text x="987.4" y="378.0" font-size="6.7" fill="#fdd835" textLength="16.4" lengthAdjust="spacingAndGlyphs">45.82</text>
<rect x="967.9" y="389.8" width="14.1" height="8.3" rx="0.7" fill="#fff" stroke="#7e57c2" stroke-width="0.75" stroke-opacity="0.85"/>
<text x="970.8" y="397.0" font-size="6.7" fill="#7e57c2" textLength="8.6" lengthAdjust="spacingAndGlyphs">RSI</text>
<rect x="983.1" y="389.8" width="23.2" height="8.3" rx="0.7" fill="#fff" stroke="#7e57c2" stroke-width="0.75" stroke-opacity="0.85"/>
<text x="987.4" y="397.0" font-size="6.7" fill="#7e57c2" textLength="16.4" lengthAdjust="spacingAndGlyphs">40.70</text>
<text x="10" y="25.6" font-size="6.7" fill="#2a2e39" textLength="112.3" lengthAdjust="spacingAndGlyphs">Crude Oil Brent Cash, 1D, BLACKBULL</text>
<text x="127" y="25.6" font-size="6.7" fill="#2a2e39" textLength="3.9" lengthAdjust="spacingAndGlyphs">O</text>
<text x="131.4" y="25.6" font-size="6.7" fill="#f04c4c" textLength="19.9" lengthAdjust="spacingAndGlyphs">89.812</text>
<text x="155.7" y="25.6" font-size="6.7" fill="#2a2e39" textLength="3.8" lengthAdjust="spacingAndGlyphs">H</text>
<text x="160.1" y="25.6" font-size="6.7" fill="#f04c4c" textLength="19.7" lengthAdjust="spacingAndGlyphs">89.965</text>
<text x="184.2" y="25.6" font-size="6.7" fill="#2a2e39" textLength="2.9" lengthAdjust="spacingAndGlyphs">L</text>
<text x="187.7" y="25.6" font-size="6.7" fill="#f04c4c" textLength="19.3" lengthAdjust="spacingAndGlyphs">88.362</text>
<text x="211.8" y="25.6" font-size="6.7" fill="#2a2e39" textLength="3.5" lengthAdjust="spacingAndGlyphs">C</text>
<text x="215.8" y="25.6" font-size="6.7" fill="#f04c4c" textLength="19.3" lengthAdjust="spacingAndGlyphs">89.226</text>
<text x="239.9" y="25.6" font-size="6.7" fill="#f04c4c" textLength="19.0" lengthAdjust="spacingAndGlyphs">&#8722;1.151</text>
<text x="262.0" y="25.6" font-size="6.7" fill="#f04c4c" textLength="24.1" lengthAdjust="spacingAndGlyphs">(&#8722;1.27%)</text>
<text x="10" y="35.2" font-size="6.7" fill="#2a2e39" textLength="59.6" lengthAdjust="spacingAndGlyphs">3EMA (50, 100, 200)</text>
<text x="74.0" y="35.2" font-size="6.7" fill="#ff5252" textLength="19.7" lengthAdjust="spacingAndGlyphs">84.136</text>
<text x="97.8" y="35.2" font-size="6.7" fill="#66bb6a" textLength="19.8" lengthAdjust="spacingAndGlyphs">82.928</text>
<text x="121.9" y="35.2" font-size="6.7" fill="#9c27b0" textLength="19.9" lengthAdjust="spacingAndGlyphs">82.819</text>
<text x="10.3" y="267.1" font-size="6.7" fill="#2a2e39" textLength="42.0" lengthAdjust="spacingAndGlyphs">RSI (14, close)</text>
<text x="56.9" y="267.1" font-size="6.7" fill="#7e57c2" textLength="16.1" lengthAdjust="spacingAndGlyphs">66.55</text>
<text x="77.2" y="267.1" font-size="6.7" fill="#fdd835" textLength="16.6" lengthAdjust="spacingAndGlyphs">66.16</text>
<g stroke="#2a2e39" stroke-width="0.85" fill="none" opacity="0.85"><ellipse cx="99.95" cy="264.8" rx="1.5" ry="2.15"/><line x1="98.95" y1="263.3" x2="100.95" y2="266.3" stroke-width="0.7"/></g>
<g stroke="#2a2e39" stroke-width="0.85" fill="none" opacity="0.85"><ellipse cx="108.9" cy="264.8" rx="1.5" ry="2.15"/><line x1="107.9" y1="263.3" x2="109.9" y2="266.3" stroke-width="0.7"/></g>
<g stroke="#2a2e39" stroke-width="0.85" fill="none" opacity="0.85"><ellipse cx="117.2" cy="264.8" rx="1.5" ry="2.15"/><line x1="116.2" y1="263.3" x2="118.2" y2="266.3" stroke-width="0.7"/></g>
<g stroke="#2a2e39" stroke-width="0.85" fill="none" opacity="0.85"><ellipse cx="125.4" cy="264.8" rx="1.5" ry="2.15"/><line x1="124.4" y1="263.3" x2="126.4" y2="266.3" stroke-width="0.7"/></g>
<g stroke="#2a2e39" stroke-width="0.85" fill="none" opacity="0.85"><ellipse cx="133.9" cy="264.8" rx="1.5" ry="2.15"/><line x1="132.9" y1="263.3" x2="134.9" y2="266.3" stroke-width="0.7"/></g>
<g stroke="#2a2e39" stroke-width="0.85" fill="none" opacity="0.85"><ellipse cx="142.7" cy="264.8" rx="1.5" ry="2.15"/><line x1="141.7" y1="263.3" x2="143.7" y2="266.3" stroke-width="0.7"/></g>
<g clip-path="url(#cpT)">
<text x="31.3" y="452.9" font-size="6.7" fill="#2a2e39" textLength="6.8" lengthAdjust="spacingAndGlyphs">17</text>
<text x="116.6" y="452.9" font-size="6.7" fill="#2a2e39" textLength="10.8" lengthAdjust="spacingAndGlyphs">Aug</text>
<text x="190.0" y="452.9" font-size="6.7" fill="#2a2e39" textLength="6.8" lengthAdjust="spacingAndGlyphs">14</text>
<text x="237.6" y="452.9" font-size="6.7" fill="#2a2e39" textLength="6.8" lengthAdjust="spacingAndGlyphs">22</text>
<text x="299.1" y="452.9" font-size="6.7" fill="#2a2e39" textLength="10.8" lengthAdjust="spacingAndGlyphs">Sep</text>
<text x="348.7" y="452.9" font-size="6.7" fill="#2a2e39" textLength="6.8" lengthAdjust="spacingAndGlyphs">11</text>
<text x="396.3" y="452.9" font-size="6.7" fill="#2a2e39" textLength="6.8" lengthAdjust="spacingAndGlyphs">19</text>
<text x="465.7" y="452.9" font-size="6.7" fill="#2a2e39" textLength="10.8" lengthAdjust="spacingAndGlyphs">Oct</text>
<text x="547.0" y="452.9" font-size="6.7" fill="#2a2e39" textLength="6.8" lengthAdjust="spacingAndGlyphs">16</text>
<text x="594.6" y="452.9" font-size="6.7" fill="#2a2e39" textLength="6.8" lengthAdjust="spacingAndGlyphs">24</text>
<text x="640.2" y="452.9" font-size="6.7" fill="#2a2e39" textLength="10.8" lengthAdjust="spacingAndGlyphs">Nov</text>
<text x="705.7" y="452.9" font-size="6.7" fill="#2a2e39" textLength="6.8" lengthAdjust="spacingAndGlyphs">13</text>
<text x="753.3" y="452.9" font-size="6.7" fill="#2a2e39" textLength="6.8" lengthAdjust="spacingAndGlyphs">21</text>
<text x="814.8" y="452.9" font-size="6.7" fill="#2a2e39" textLength="10.8" lengthAdjust="spacingAndGlyphs">Dec</text>
<text x="864.4" y="452.9" font-size="6.7" fill="#2a2e39" textLength="6.8" lengthAdjust="spacingAndGlyphs">11</text>
<text x="912.0" y="452.9" font-size="6.7" fill="#2a2e39" textLength="6.8" lengthAdjust="spacingAndGlyphs">19</text>
<text x="971.0" y="452.9" font-size="6.8" fill="#2a2e39" textLength="15.4" lengthAdjust="spacingAndGlyphs" font-weight="bold">2024</text>
</g>
<g transform="translate(5.5,463.97) scale(0.307)" fill="#131722"><path d="M14 22H7V11H0V4h14v18zM28 22h-8l7.5-18h8L28 22z"/><circle cx="20" cy="8" r="4"/></g>
<text x="18.8" y="470.7" font-size="7.1" fill="#474b57" textLength="39.0" lengthAdjust="spacingAndGlyphs">TradingView</text>
</g>
</svg></body></html>
